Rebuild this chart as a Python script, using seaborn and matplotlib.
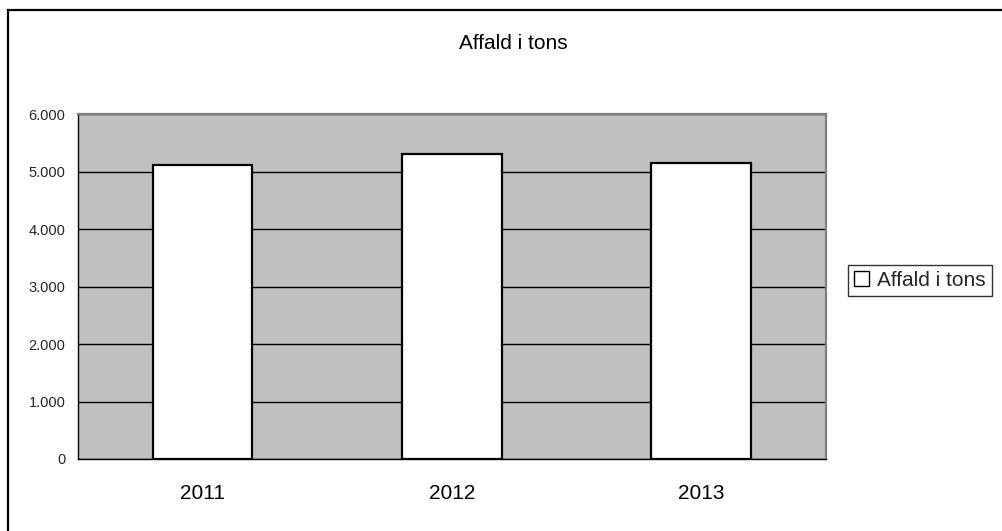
import matplotlib
matplotlib.use("Agg")
import matplotlib.pyplot as plt
from matplotlib.ticker import FuncFormatter, FixedLocator
from matplotlib.patches import Rectangle
import seaborn as sns
import pandas as pd

years = ["2011", "2012", "2013"]
values = [5125, 5315, 5160]
series_label = "Affald i tons"
title = "Affald i tons"

sns.set_theme(style="white")
plt.rcParams["font.family"] = ["Liberation Sans", "DejaVu Sans"]

df = pd.DataFrame({"year": years, "value": values})

fig = plt.figure(figsize=(10.02, 5.31), dpi=100)
ax = fig.add_axes([0.0778, 0.1356, 0.824 - 0.0778, 0.7844 - 0.1356])
ax.set_facecolor("#C0C0C0")

sns.barplot(data=df, x="year", y="value", color="white", saturation=1,
            edgecolor="black", linewidth=1.6, width=0.4, ax=ax,
            label=series_label, zorder=3)

ax.set_ylim(0, 6000)
ax.set_xlim(-0.5, 2.5)
ax.yaxis.set_major_locator(FixedLocator([0, 1000, 2000, 3000, 4000, 5000, 6000]))
ax.yaxis.set_major_formatter(FuncFormatter(lambda v, p: f"{int(v):,}".replace(",", ".")))
ax.grid(axis="y", color="black", linewidth=1.0, zorder=1)
ax.set_axisbelow(True)

ax.set_xlabel("")
ax.set_ylabel("")
ax.tick_params(axis="x", which="major", length=0, pad=18, labelsize=15, colors="black")
ax.set_xticks([-0.5, 0.5, 1.5, 2.5], minor=True)
ax.tick_params(axis="x", which="minor", length=5, width=1, direction="out", color="black")
ax.tick_params(axis="y", length=5, width=1, direction="out", color="black",
               pad=4, labelsize=10.5)

for s in ["left", "bottom"]:
    ax.spines[s].set_color("black")
    ax.spines[s].set_linewidth(1.0)
for s in ["top", "right"]:
    ax.spines[s].set_color("#808080")
    ax.spines[s].set_linewidth(1.6)

fig.text(0.512, 1 - 49 / 531, title, ha="center", va="baseline", fontsize=15, color="black")

leg = ax.legend(loc="center left", bbox_to_anchor=(0.846, 0.472),
                bbox_transform=fig.transFigure, frameon=True, fancybox=False,
                fontsize=15, handlelength=0.7, handleheight=0.7,
                handletextpad=0.4, borderpad=0.3, borderaxespad=0)
leg.get_frame().set_edgecolor("black")
leg.get_frame().set_linewidth(1.0)
for h in leg.legend_handles:
    h.set_linewidth(1.0)

fig.patches.append(Rectangle((0.0075, -0.05), 1.1, 1.031,
                             transform=fig.transFigure, fill=False,
                             edgecolor="black", linewidth=1.6, zorder=10))

fig.savefig("out.png", dpi=100)
